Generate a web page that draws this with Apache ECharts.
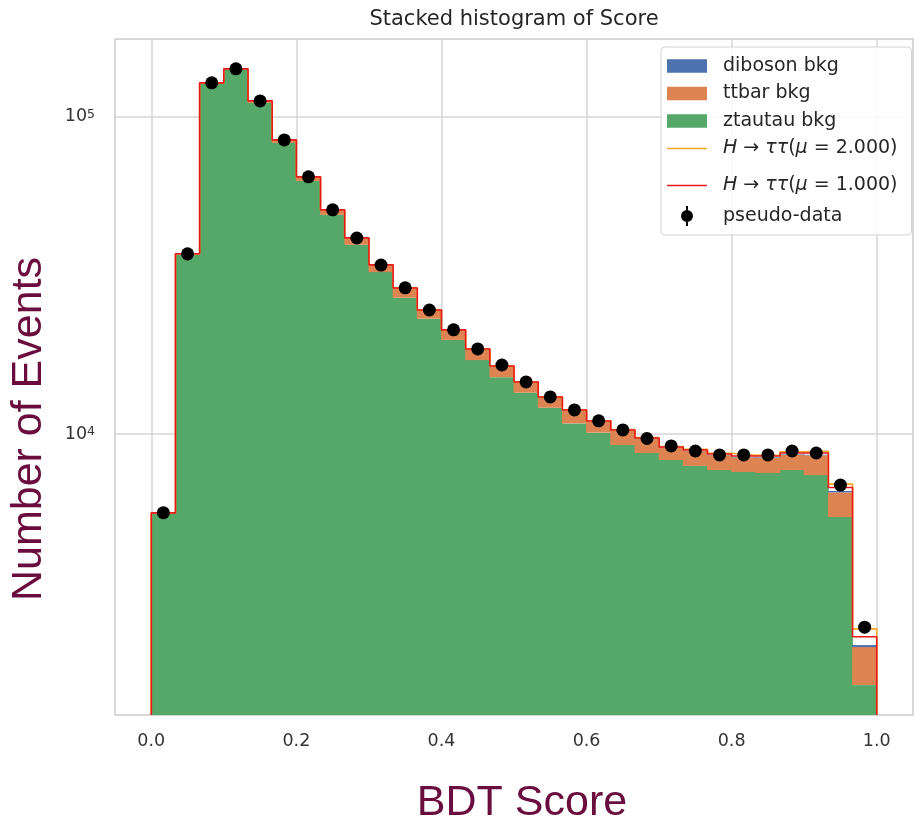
<!DOCTYPE html>
<html><head><meta charset="utf-8">
<script src="https://cdn.jsdelivr.net/npm/echarts@6/dist/echarts.min.js"></script>
<style>html,body{margin:0;padding:0;background:#fff}#c{width:914px;height:820px}</style>
</head><body><div id="c"></div>
<script>
// ---- data (30 bins of BDT score on [0,1]) ----
const nBins = 30;
const binEdges = Array.from({length: nBins + 1}, (_, i) => i / nBins);
const ztautau = [5600, 36700, 127000, 140700, 110700, 82800, 62800, 49100, 39500, 32400,
                 26900, 23100, 19800, 17100, 15100, 13500, 12100, 10800, 10100, 9230,
                 8710, 8280, 7930, 7700, 7590, 7530, 7700, 7420, 5470, 1615];
const ttbar   = [28, 255, 870, 850, 1470, 1690, 1780, 1690, 1940, 1670,
                 1910, 1450, 1430, 1380, 1230, 1030, 930, 1050, 835, 1010,
                 945, 755, 905, 875, 850, 900, 900, 1145, 1075, 513];
const diboson = [10, 40, 120, 140, 120, 100, 90, 80, 70, 60,
                 55, 50, 45, 42, 40, 38, 36, 34, 32, 31,
                 30, 30, 30, 30, 30, 30, 32, 35, 66, 32];
const higgs   = [2, 5, 10, 12, 12, 12, 12, 12, 12, 12,
                 13, 14, 15, 16, 17, 18, 20, 22, 24, 26,
                 30, 34, 38, 44, 52, 62, 80, 110, 170, 135];
const pseudoData = [5650, 36980, 128000, 141700, 112300, 84600, 64700, 50900, 41500, 34100,
                    28900, 24600, 21300, 18550, 16500, 14590, 13090, 11910, 11000, 10300,
                    9680, 9170, 8840, 8590, 8590, 8590, 8840, 8710, 6900, 2460];
const muValues = [2.0, 1.0];
const xTicks = [0.0, 0.2, 0.4, 0.6, 0.8, 1.0];
const yTicks = [1e4, 1e5];

// ---- axis range ----
const yMin = 1300, yMax = 176000;

// ---- stacking ----
const layer1 = ztautau.slice();
const layer2 = ztautau.map((v, i) => v + ttbar[i]);
const layer3 = layer2.map((v, i) => v + diboson[i]);

function rectSeries(name, color, lower, upper) {
  return {
    name, type: 'custom', clip: true, z: 2,
    itemStyle: {color},
    encode: {x: [0, 1], y: [2, 3]},
    data: upper.map((u, i) => [binEdges[i], binEdges[i + 1], lower ? lower[i] : yMin, u]),
    renderItem(params, api) {
      const p0 = api.coord([api.value(0), api.value(3)]);
      const p1 = api.coord([api.value(1), api.value(2)]);
      return {type: 'rect', shape: {x: p0[0] - 0.4, y: p0[1], width: p1[0] - p0[0] + 0.8, height: p1[1] - p0[1]},
              style: {fill: color}};
    }
  };
}
function stepLine(name, color, totals) {
  const pts = [[binEdges[0], yMin]];
  totals.forEach((t, i) => pts.push([binEdges[i], t]));
  pts.push([binEdges[nBins], totals[nBins - 1]]);
  pts.push([binEdges[nBins], yMin]);
  return {name, type: 'line', step: 'end', symbol: 'none', data: pts, z: 3, clip: true,
          lineStyle: {color, width: 1.6}, itemStyle: {color}};
}
const sigName = mu => 'H→ττ(μ=' + mu.toFixed(3) + ')';
const totalMu = mu => layer3.map((v, i) => v + mu * higgs[i]);
const centers = pseudoData.map((_, i) => (binEdges[i] + binEdges[i + 1]) / 2);

const chart = echarts.init(document.getElementById('c'), null, {renderer: 'canvas'});
const font = 'DejaVu Sans';
const legendRich = {
  n: {fontFamily: font, fontSize: 19, lineHeight: 20, color: '#262626'},
  i: {fontFamily: font, fontStyle: 'italic', fontSize: 19, lineHeight: 20, color: '#262626'}
};
const legendFormatter = name => {
  const m = name.match(/μ=([\d.]+)/);
  return m ? '{i|H}{n| → }{i|ττ}{n|(}{i|μ}{n| = ' + m[1] + ')}' : '{n|' + name + '}';
};
const rectIcon = 'path://M0,0H39V13H0Z';
const lineIcon = 'path://M0,0H40V1.6H0Z';
const dataIcon = 'path://M5,0H7V20H5Z M6,4A6,6 0 1 1 6,16A6,6 0 1 1 6,4Z';
const legendBase = {
  orient: 'vertical', left: 661, itemWidth: 40, itemHeight: 20,
  textStyle: {fontFamily: font, fontSize: 19, color: '#262626', padding: [0, 0, 0, 11], rich: legendRich},
  formatter: legendFormatter
};
chart.setOption({
  animation: false,
  backgroundColor: '#fff',
  title: {text: 'Stacked histogram of Score', left: 514, top: 9, padding: 0, textAlign: 'center',
          textStyle: {fontFamily: font, fontSize: 21, fontWeight: 'normal', color: '#262626'}},
  grid: {left: 115, top: 39, right: 1, bottom: 105, show: true, borderColor: '#cccccc', borderWidth: 1.5,
         backgroundColor: '#fff', containLabel: false, outerBoundsMode: 'none'},
  xAxis: {
    type: 'value', min: -0.05, max: 1.05,
    axisLine: {show: false}, axisTick: {show: false, customValues: xTicks},
    axisLabel: {customValues: xTicks, formatter: v => v.toFixed(1), fontFamily: font, fontSize: 17.5, color: '#333', margin: 17},
    splitLine: {show: true, lineStyle: {color: '#d6d6d6', width: 1.5}},
    name: 'BDT Score', nameLocation: 'middle', nameGap: 67, nameMoveOverlap: false,
    nameTextStyle: {fontFamily: 'Liberation Sans', fontSize: 43, color: '#6a0c3e', padding: [0, 0, 0, 16]}
  },
  yAxis: {
    type: 'log', logBase: 10, min: yMin, max: yMax,
    axisLine: {show: false}, axisTick: {show: false, customValues: yTicks},
    axisLabel: {customValues: yTicks, margin: 20, color: '#333',
      formatter: v => '{b|10}{s|' + Math.round(Math.log10(v)) + '}',
      rich: {b: {fontFamily: font, fontSize: 17.5, lineHeight: 17, color: '#333'},
             s: {fontFamily: font, fontSize: 12.5, lineHeight: 10, verticalAlign: 'top', color: '#333'}}},
    splitLine: {show: true, lineStyle: {color: '#d6d6d6', width: 1.5}},
    name: 'Number of Events', nameLocation: 'middle', nameGap: 64, nameMoveOverlap: false,
    nameTextStyle: {fontFamily: 'Liberation Sans', fontSize: 43, color: '#6a0c3e', padding: [0, 104, 0, 0]}
  },
  legend: [
    Object.assign({}, legendBase, {
      top: 47, padding: [9.5, 14, 77, 6], itemGap: 8.5,
      backgroundColor: 'rgba(255,255,255,0.85)', borderColor: '#d4d4d4', borderWidth: 1, borderRadius: 4,
      data: [
        {name: 'diboson bkg', icon: rectIcon},
        {name: 'ttbar bkg', icon: rectIcon},
        {name: 'ztautau bkg', icon: rectIcon},
        {name: sigName(muValues[0]), icon: lineIcon}
      ]
    }),
    Object.assign({}, legendBase, {
      top: 176, padding: [0, 0, 0, 6], itemGap: 11,
      data: [
        {name: sigName(muValues[1]), icon: lineIcon},
        {name: 'pseudo-data', icon: dataIcon}
      ]
    })
  ],
  series: [
    rectSeries('ztautau bkg', '#55a868', null, layer1),
    rectSeries('ttbar bkg', '#dd8452', layer1, layer2),
    rectSeries('diboson bkg', '#4c72b0', layer2, layer3),
    stepLine(sigName(muValues[0]), '#f5a623', totalMu(muValues[0])),
    stepLine(sigName(muValues[1]), '#e8191c', totalMu(muValues[1])),
    {
      name: 'data-err', type: 'custom', z: 4, clip: true,
      data: pseudoData.map((v, i) => [centers[i], v - Math.sqrt(v), v + Math.sqrt(v)]),
      renderItem(params, api) {
        const a = api.coord([api.value(0), api.value(1)]);
        const b = api.coord([api.value(0), api.value(2)]);
        return {type: 'line', shape: {x1: a[0], y1: a[1], x2: b[0], y2: b[1]}, style: {stroke: '#000', lineWidth: 1.8}};
      }
    },
    {name: 'pseudo-data', type: 'scatter', z: 5, symbol: 'circle', symbolSize: 13,
     itemStyle: {color: '#000', opacity: 1}, data: pseudoData.map((v, i) => [centers[i], v])}
  ]
});
</script></body></html>
